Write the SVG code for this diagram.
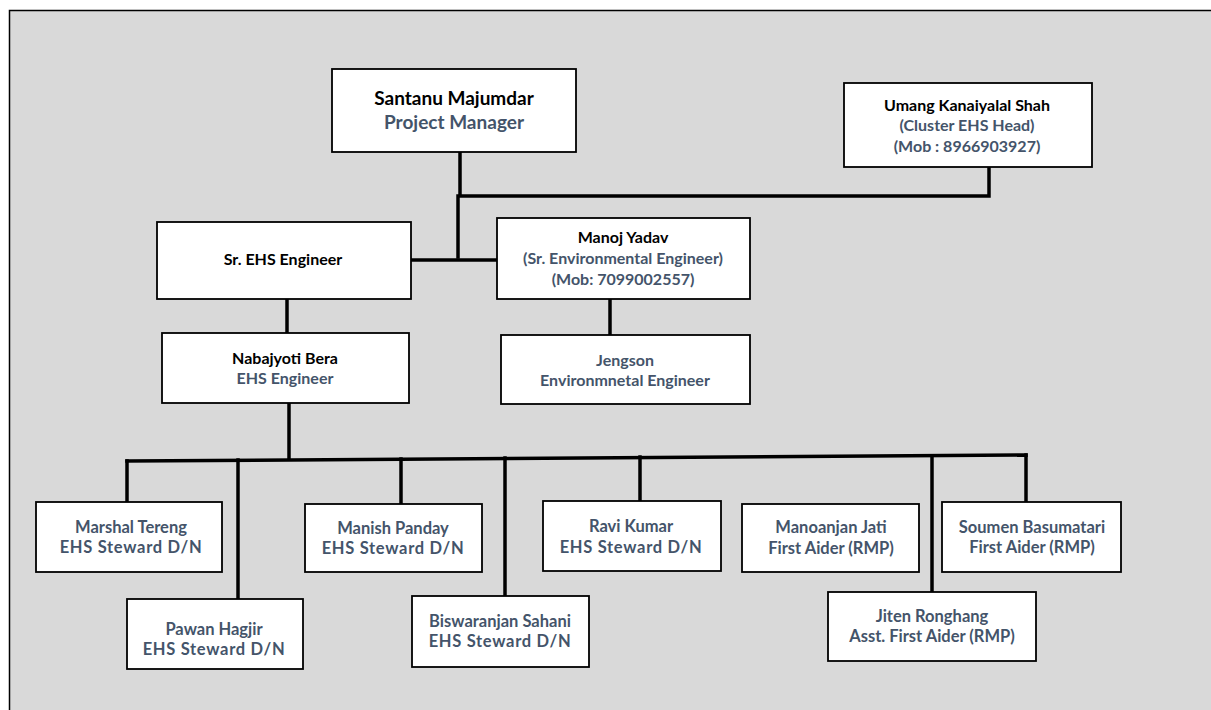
<svg xmlns="http://www.w3.org/2000/svg" width="1211" height="710" viewBox="0 0 1211 710">
<style>
.box{fill:#fff;stroke:#000;stroke-width:1.8}
.ln{fill:none;stroke:#000;stroke-width:3.5;stroke-linecap:square}
text{font-family:Lato,"Open Sans","Liberation Sans",sans-serif;font-weight:bold;text-anchor:middle;font-size:16px}
.n{fill:#000}
.r{fill:#44546A}
.big{font-size:19px}
.s{font-size:16.5px}
.w{letter-spacing:0.7px}
</style>
<rect x="9.5" y="10.5" width="1210" height="710" fill="#D9D9D9" stroke="#000" stroke-width="1.5"/>
<g id="connectors">
<polyline class="ln" points="460,152 460,196 989,196 989,167"/>
<line class="ln" x1="458" y1="196" x2="458" y2="257"/>
<line class="ln" x1="411" y1="260" x2="497" y2="260"/>
<line class="ln" x1="287" y1="299" x2="287" y2="333"/>
<line class="ln" x1="610" y1="299" x2="610" y2="335"/>
<line class="ln" x1="289" y1="403" x2="289" y2="459"/>
<line class="ln" x1="127" y1="461" x2="1026" y2="455"/>
<line class="ln" x1="127" y1="461" x2="127" y2="502"/>
<line class="ln" x1="238" y1="460" x2="238" y2="599"/>
<line class="ln" x1="401" y1="459" x2="401" y2="504"/>
<line class="ln" x1="505" y1="458" x2="505" y2="596"/>
<line class="ln" x1="640" y1="457" x2="640" y2="501"/>
<line class="ln" x1="932" y1="456" x2="932" y2="592"/>
<line class="ln" x1="1026" y1="455" x2="1026" y2="502"/>
</g>
<g id="santanu"><rect class="box" x="332" y="69" width="244" height="83"/>
<text class="n big" x="454" y="105">Santanu Majumdar</text>
<text class="r big" x="454" y="129">Project Manager</text></g>
<g id="umang"><rect class="box" x="844" y="83" width="248" height="84"/>
<text class="n" x="967" y="111">Umang Kanaiyalal Shah</text>
<text class="r" x="967" y="131">(Cluster EHS Head)</text>
<text class="r" x="967" y="152">(Mob : 8966903927)</text></g>
<g id="sr-ehs"><rect class="box" x="157" y="222" width="254" height="77"/>
<text class="n" x="283" y="265">Sr. EHS Engineer</text></g>
<g id="manoj"><rect class="box" x="497" y="218" width="253" height="81"/>
<text class="n" x="623" y="243">Manoj Yadav</text>
<text class="r" x="623" y="264">(Sr. Environmental Engineer)</text>
<text class="r" x="623" y="285">(Mob: 7099002557)</text></g>
<g id="nabajyoti"><rect class="box" x="162" y="333" width="247" height="70"/>
<text class="n" x="285" y="364">Nabajyoti Bera</text>
<text class="r" x="285" y="384">EHS Engineer</text></g>
<g id="jengson"><rect class="box" x="501" y="335" width="249" height="69"/>
<text class="r" x="625" y="366">Jengson</text>
<text class="r" x="625" y="386">Environmnetal Engineer</text></g>
<g id="marshal"><rect class="box" x="36" y="502" width="186" height="70"/>
<text class="r s" x="131" y="533">Marshal Tereng</text>
<text class="r s w" x="131" y="553">EHS Steward D/N</text></g>
<g id="pawan"><rect class="box" x="127" y="599" width="176" height="70"/>
<text class="r s" x="214" y="635">Pawan Hagjir</text>
<text class="r s w" x="214" y="655">EHS Steward D/N</text></g>
<g id="manish"><rect class="box" x="305" y="504" width="177" height="68"/>
<text class="r s" x="393" y="534">Manish Panday</text>
<text class="r s w" x="393" y="554">EHS Steward D/N</text></g>
<g id="biswaranjan"><rect class="box" x="412" y="596" width="177" height="71"/>
<text class="r s" x="500" y="627">Biswaranjan Sahani</text>
<text class="r s w" x="500" y="647">EHS Steward D/N</text></g>
<g id="ravi"><rect class="box" x="543" y="501" width="178" height="70"/>
<text class="r s" x="631" y="532">Ravi Kumar</text>
<text class="r s w" x="631" y="553">EHS Steward D/N</text></g>
<g id="manoanjan"><rect class="box" x="742" y="504" width="177" height="68"/>
<text class="r s" x="831" y="533">Manoanjan Jati</text>
<text class="r s" x="831" y="554">First Aider (RMP)</text></g>
<g id="soumen"><rect class="box" x="942" y="502" width="179" height="70"/>
<text class="r s" x="1032" y="533">Soumen Basumatari</text>
<text class="r s" x="1032" y="553">First Aider (RMP)</text></g>
<g id="jiten"><rect class="box" x="828" y="592" width="208" height="69"/>
<text class="r s" x="932" y="622">Jiten Ronghang</text>
<text class="r s" x="932" y="642">Asst. First Aider (RMP)</text></g>
</svg>
